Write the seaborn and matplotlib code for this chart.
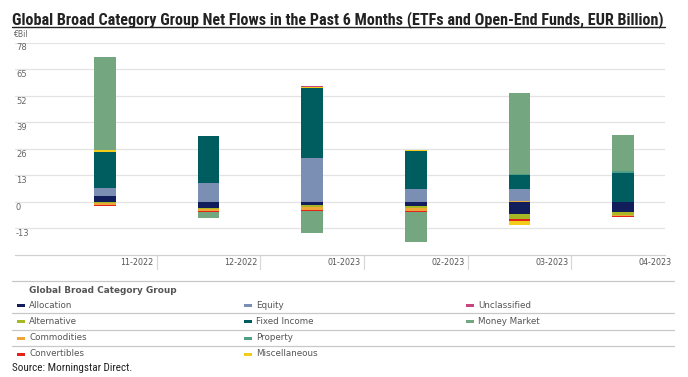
import matplotlib
matplotlib.use("Agg")
import matplotlib.pyplot as plt
import seaborn as sns
import numpy as np
import pandas as pd
from matplotlib import font_manager, transforms
from matplotlib.lines import Line2D
from matplotlib.patches import Rectangle

# ---------------- data ----------------
months = ["11-2022", "12-2022", "01-2023", "02-2023", "03-2023", "04-2023"]
allocation    = [2.8, -2.8, -1.6, -2.0, -6.0, -4.9]
alternative   = [-0.6, -0.6, -1.1, -0.8, -2.4, -1.3]
commodities   = [-0.9, -1.0, -1.3, -1.8, 0.6, -0.6]
convertibles  = [-0.6, -0.7, -0.3, -0.3, -1.2, -0.8]
equity        = [4.2, 9.2, 21.3, 6.2, 5.5, 0.0]
fixed_income  = [17.2, 23.2, 34.5, 18.5, 7.0, 14.3]
property_     = [0.0, 0.0, 0.0, 0.0, 0.6, 0.6]
miscellaneous = [1.0, 0.0, 0.5, 0.5, -1.8, 0.0]
unclassified  = [0.0, 0.0, 0.5, 0.4, 0.0, 0.0]
money_market  = [45.8, -3.0, -11.1, -14.9, 39.5, 17.8]

series_names = ["Allocation", "Alternative", "Commodities", "Convertibles", "Equity",
                "Fixed Income", "Property", "Miscellaneous", "Unclassified", "Money Market"]
series_values = [allocation, alternative, commodities, convertibles, equity,
                 fixed_income, property_, miscellaneous, unclassified, money_market]
colors = {
    "Allocation": "#121d5c",
    "Alternative": "#a8b824",
    "Commodities": "#eea63a",
    "Convertibles": "#e2231a",
    "Equity": "#7b8fb5",
    "Fixed Income": "#005d5f",
    "Property": "#4f9e86",
    "Miscellaneous": "#f4cc1a",
    "Unclassified": "#c8457d",
    "Money Market": "#74a67f",
}
y_ticks = [78, 65, 52, 39, 26, 13, 0, -13]

# legend layout (columns of the reference legend)
legend_cols = [["Allocation", "Alternative", "Commodities", "Convertibles"],
               ["Equity", "Fixed Income", "Property", "Miscellaneous"],
               ["Unclassified", "Money Market"]]

# ---------------- fonts ----------------
def pick(families, default="DejaVu Sans"):
    for f in families:
        try:
            font_manager.findfont(font_manager.FontProperties(family=f), fallback_to_default=False)
            return f
        except Exception:
            pass
    return default

narrow = pick(["Liberation Sans Narrow", "Roboto Condensed", "Liberation Sans"])
print("narrow font:", narrow)

sns.set_theme(style="white")
plt.rcParams["font.family"] = ["DejaVu Sans"]

W, H = 688, 377
fig = plt.figure(figsize=(W / 100, H / 100), dpi=100)

def fx(px):
    return px / W

def fy(py):
    return 1 - py / H

# axes placement (pixels)
ax_left, ax_right, ax_top, ax_bottom = 15, 665, 42.5, 255
ax = fig.add_axes([fx(ax_left), fy(ax_bottom), fx(ax_right - ax_left), (ax_bottom - ax_top) / H])

# ---------------- stacked bars via seaborn ----------------
df = pd.DataFrame(dict(zip(series_names, series_values)), index=months)
pos = df.clip(lower=0).cumsum(axis=1)
neg = df.clip(upper=0).cumsum(axis=1)
bar_w = 0.208
for name in reversed(series_names):
    for cum in (pos, neg):
        vals = cum[name].values
        if np.allclose(vals, 0):
            continue
        sns.barplot(x=months, y=vals, order=months, color=colors[name], saturation=1,
                    width=bar_w, errorbar=None, linewidth=0, ax=ax, zorder=3)

ax.set_xlim(-0.869, 5.405)
ax.set_ylim(-26, 78)
ax.set_yticks(y_ticks)
ax.set_xticks([])
ax.grid(axis="y", color="#e3e3e3", linewidth=0.9)
ax.grid(axis="x", visible=False)
ax.set_axisbelow(True)
ax.tick_params(length=0, labelleft=False, labelbottom=False)
ax.set_xlabel("")
ax.set_ylabel("")
for s in ["top", "left", "right"]:
    ax.spines[s].set_visible(False)
ax.spines["bottom"].set_color("#d0d0d0")
ax.spines["bottom"].set_linewidth(0.9)

# y labels above/at gridlines, inside the axes at the left
ytr = transforms.blended_transform_factory(ax.transAxes, ax.transData)
for v in y_ticks:
    t = ax.text(0.0015, v, str(v), transform=transforms.offset_copy(ytr, fig=fig, x=0, y=-1.0, units="dots"),
                ha="left", va="top", fontsize=6, color="#666666")

# x labels: right aligned at category boundaries, with separator ticks
xtr = transforms.blended_transform_factory(ax.transData, ax.transAxes)
for i, m in enumerate(months):
    ax.text(i + 0.5, 0, m, transform=transforms.offset_copy(xtr, fig=fig, x=-3, y=-7.5, units="dots"),
            ha="right", va="center", fontsize=5.8, color="#555555", clip_on=False)
    if i < len(months) - 1:
        ax.plot([i + 0.5, i + 0.5], [0, -13.5 / (ax_bottom - ax_top)], transform=xtr,
                color="#d8d8d8", linewidth=0.9, clip_on=False)

fig.text(fx(13), fy(34.5), "€Bil", fontsize=5.6, color="#666666", ha="left", va="center")

# ---------------- title ----------------
fig.canvas.draw()
renderer = fig.canvas.get_renderer()

def fit(t, width_px):
    w = t.get_window_extent(renderer).width
    t.set_fontsize(t.get_fontsize() * width_px / w)

title = fig.text(fx(12), fy(24), "Global Broad Category Group Net Flows in the Past 6 Months (ETFs and Open-End Funds, EUR Billion)",
                 fontsize=12, fontweight="bold", color="#222222", family=narrow, ha="left", va="baseline")
fit(title, 653)
fig.add_artist(Line2D([fx(12), fx(665)], [fy(26.8), fy(26.8)], color="#222222", linewidth=1.0))

# ---------------- legend (manual, Morningstar style) ----------------
fig.add_artist(Line2D([fx(12), fx(674)], [fy(281), fy(281)], color="#c8c8c8", linewidth=0.9))
hdr = fig.text(fx(29), fy(290.5), "Global Broad Category Group", fontsize=6.5, fontweight="bold",
               color="#555555", ha="left", va="center")
fit(hdr, 146)
row_y = [305, 321.5, 338, 354]
for ly in [313, 329.5, 346]:
    fig.add_artist(Line2D([fx(12), fx(674)], [fy(ly), fy(ly)], color="#c8c8c8", linewidth=0.9))
col_marker_x = [17, 244, 466]
for c, names in enumerate(legend_cols):
    for r, name in enumerate(names):
        mx = col_marker_x[c]
        fig.add_artist(Rectangle((fx(mx), fy(row_y[r] + 1.5)), fx(8), 3 / H,
                                 facecolor=colors[name], edgecolor="none", transform=fig.transFigure))
        fig.text(fx(mx + 12), fy(row_y[r]), name, fontsize=6.3, color="#555555", ha="left", va="center")

src = fig.text(fx(12), fy(368), "Source: Morningstar Direct.", fontsize=8, color="#222222",
               family=narrow, ha="left", va="center")
fit(src, 121)

fig.savefig("out.png", dpi=100)
